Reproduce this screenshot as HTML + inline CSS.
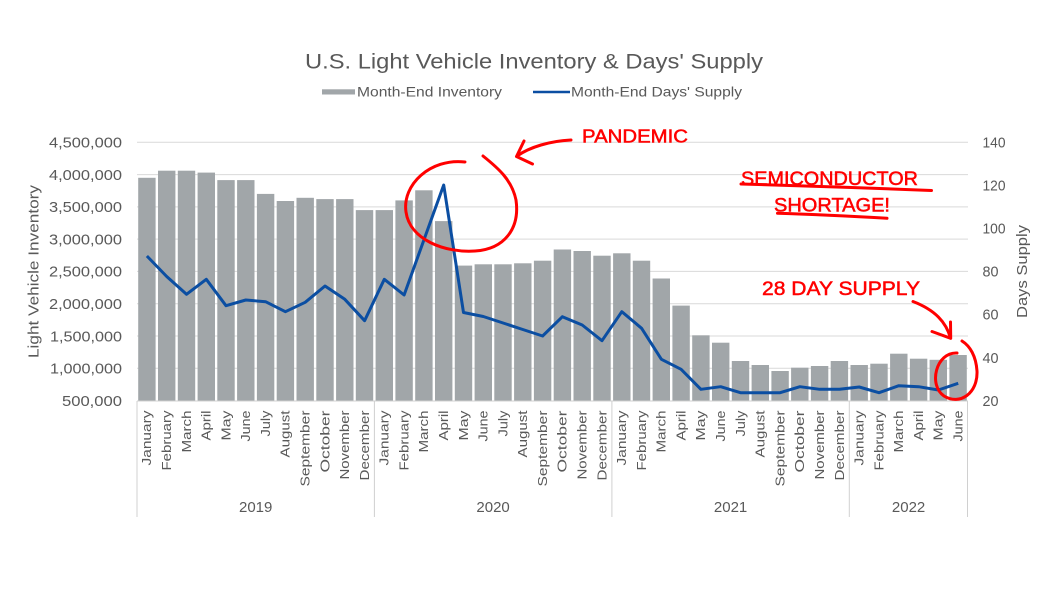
<!DOCTYPE html>
<html><head><meta charset="utf-8"><style>
html,body{margin:0;padding:0;background:#fff;}
svg{display:block;font-family:"Liberation Sans",sans-serif;}
</style></head><body>
<svg width="1057" height="594" viewBox="0 0 1057 594" xmlns="http://www.w3.org/2000/svg">
<rect width="1057" height="594" fill="#fff"/>
<!-- title -->
<text x="534" y="68.5" text-anchor="middle" font-size="21" fill="#595959" textLength="458" lengthAdjust="spacingAndGlyphs">U.S. Light Vehicle Inventory &amp; Days' Supply</text>
<!-- legend -->
<rect x="322" y="89.3" width="33" height="5.2" fill="#a1a6a9"/>
<text x="357" y="96.7" font-size="13.5" fill="#595959" textLength="145" lengthAdjust="spacingAndGlyphs">Month-End Inventory</text>
<line x1="533" y1="92" x2="570" y2="92" stroke="#0b4ea2" stroke-width="2.5"/>
<text x="571" y="96.7" font-size="13.5" fill="#595959" textLength="171" lengthAdjust="spacingAndGlyphs">Month-End Days' Supply</text>
<!-- gridlines -->
<g stroke="#d9d9d9" stroke-width="1">
<line x1="137" x2="968" y1="142.3" y2="142.3"/>
<line x1="137" x2="968" y1="174.6" y2="174.6"/>
<line x1="137" x2="968" y1="206.9" y2="206.9"/>
<line x1="137" x2="968" y1="239.1" y2="239.1"/>
<line x1="137" x2="968" y1="271.4" y2="271.4"/>
<line x1="137" x2="968" y1="303.7" y2="303.7"/>
<line x1="137" x2="968" y1="336.0" y2="336.0"/>
<line x1="137" x2="968" y1="368.2" y2="368.2"/>
</g>
<!-- bars -->
<g fill="#a1a6a9">
<rect x="138.2" y="177.8" width="17.4" height="222.7"/>
<rect x="158.0" y="170.7" width="17.4" height="229.8"/>
<rect x="177.8" y="170.7" width="17.4" height="229.8"/>
<rect x="197.6" y="172.6" width="17.4" height="227.9"/>
<rect x="217.3" y="180.1" width="17.4" height="220.4"/>
<rect x="237.1" y="180.1" width="17.4" height="220.4"/>
<rect x="256.9" y="193.9" width="17.4" height="206.6"/>
<rect x="276.7" y="201.0" width="17.4" height="199.5"/>
<rect x="296.5" y="197.8" width="17.4" height="202.7"/>
<rect x="316.3" y="199.1" width="17.4" height="201.4"/>
<rect x="336.1" y="199.1" width="17.4" height="201.4"/>
<rect x="355.8" y="210.1" width="17.4" height="190.4"/>
<rect x="375.6" y="210.1" width="17.4" height="190.4"/>
<rect x="395.4" y="200.4" width="17.4" height="200.1"/>
<rect x="415.2" y="190.3" width="17.4" height="210.2"/>
<rect x="435.0" y="221.1" width="17.4" height="179.4"/>
<rect x="454.8" y="265.6" width="17.4" height="134.9"/>
<rect x="474.6" y="264.3" width="17.4" height="136.2"/>
<rect x="494.3" y="264.3" width="17.4" height="136.2"/>
<rect x="514.1" y="263.3" width="17.4" height="137.2"/>
<rect x="533.9" y="260.7" width="17.4" height="139.8"/>
<rect x="553.7" y="249.5" width="17.4" height="151.0"/>
<rect x="573.5" y="251.0" width="17.4" height="149.5"/>
<rect x="593.3" y="255.7" width="17.4" height="144.8"/>
<rect x="613.1" y="253.3" width="17.4" height="147.2"/>
<rect x="632.8" y="260.7" width="17.4" height="139.8"/>
<rect x="652.6" y="278.5" width="17.4" height="122.0"/>
<rect x="672.4" y="305.6" width="17.4" height="94.9"/>
<rect x="692.2" y="335.3" width="17.4" height="65.2"/>
<rect x="712.0" y="342.7" width="17.4" height="57.8"/>
<rect x="731.8" y="361.0" width="17.4" height="39.5"/>
<rect x="751.6" y="365.0" width="17.4" height="35.5"/>
<rect x="771.4" y="371.0" width="17.4" height="29.5"/>
<rect x="791.1" y="367.7" width="17.4" height="32.8"/>
<rect x="810.9" y="366.0" width="17.4" height="34.5"/>
<rect x="830.7" y="361.0" width="17.4" height="39.5"/>
<rect x="850.5" y="365.0" width="17.4" height="35.5"/>
<rect x="870.3" y="363.7" width="17.4" height="36.8"/>
<rect x="890.1" y="353.7" width="17.4" height="46.8"/>
<rect x="909.9" y="358.7" width="17.4" height="41.8"/>
<rect x="929.6" y="359.8" width="17.4" height="40.7"/>
<rect x="949.4" y="355.0" width="17.4" height="45.5"/>
</g>
<!-- axis box -->
<g stroke="#d0d0d0" stroke-width="1">
<line x1="137" x2="968" y1="401" y2="401"/>
<line x1="137" x2="137" y1="401" y2="517"/>
<line x1="374.4" x2="374.4" y1="401" y2="517"/>
<line x1="611.9" x2="611.9" y1="401" y2="517"/>
<line x1="849.3" x2="849.3" y1="401" y2="517"/>
<line x1="967.5" x2="967.5" y1="401" y2="517"/>
</g>
<!-- days supply line -->
<polyline fill="none" stroke="#0b4ea2" stroke-width="3" stroke-linejoin="round" points="146.9,256 166.7,276.5 186.5,294.3 206.3,279.3 226.0,305.7 245.8,300 265.6,301.7 285.4,311.7 305.2,302.3 325.0,286 344.8,299.3 364.6,320.7 384.3,279.3 404.1,295 423.9,240 443.7,185 463.5,312.5 483.3,316.5 503.1,323 522.8,329.5 542.6,336 562.4,316.7 582.2,325 602.0,340.7 621.8,311.7 641.6,328.3 661.4,359.3 681.1,369.3 700.9,389.3 720.7,386.7 740.5,392.7 760.3,392.7 780.1,392.7 799.9,386.7 819.7,389.3 839.5,389.3 859.2,387 879.0,392.7 898.8,385.7 918.6,386.7 938.4,390 958.2,383.3"/>
<!-- left axis labels -->
<g font-size="15" fill="#595959" text-anchor="end">
<text x="122" y="147.6" textLength="73" lengthAdjust="spacingAndGlyphs">4,500,000</text>
<text x="122" y="179.9" textLength="73" lengthAdjust="spacingAndGlyphs">4,000,000</text>
<text x="122" y="212.2" textLength="73" lengthAdjust="spacingAndGlyphs">3,500,000</text>
<text x="122" y="244.4" textLength="73" lengthAdjust="spacingAndGlyphs">3,000,000</text>
<text x="122" y="276.7" textLength="73" lengthAdjust="spacingAndGlyphs">2,500,000</text>
<text x="122" y="309.0" textLength="73" lengthAdjust="spacingAndGlyphs">2,000,000</text>
<text x="122" y="341.3" textLength="72" lengthAdjust="spacingAndGlyphs">1,500,000</text>
<text x="122" y="373.5" textLength="72" lengthAdjust="spacingAndGlyphs">1,000,000</text>
<text x="122" y="405.8" textLength="60" lengthAdjust="spacingAndGlyphs">500,000</text>
</g>
<!-- right axis labels -->
<g font-size="15" fill="#595959">
<text x="982.5" y="147.6" textLength="23" lengthAdjust="spacingAndGlyphs">140</text>
<text x="982.5" y="190.6" textLength="23" lengthAdjust="spacingAndGlyphs">120</text>
<text x="982.5" y="233.7" textLength="23" lengthAdjust="spacingAndGlyphs">100</text>
<text x="982.5" y="276.7" textLength="16" lengthAdjust="spacingAndGlyphs">80</text>
<text x="982.5" y="319.7" textLength="16" lengthAdjust="spacingAndGlyphs">60</text>
<text x="982.5" y="362.8" textLength="16" lengthAdjust="spacingAndGlyphs">40</text>
<text x="982.5" y="405.8" textLength="16" lengthAdjust="spacingAndGlyphs">20</text>
</g>
<!-- axis titles -->
<text transform="translate(38.5,271.5) rotate(-90)" text-anchor="middle" font-size="15" fill="#595959" textLength="173" lengthAdjust="spacingAndGlyphs">Light Vehicle Inventory</text>
<text transform="translate(1027,271.5) rotate(-90)" text-anchor="middle" font-size="15" fill="#595959" textLength="93" lengthAdjust="spacingAndGlyphs">Days Supply</text>
<!-- month labels -->
<g font-size="13" fill="#595959" text-anchor="end">
<text transform="translate(151.2,410.5) rotate(-90)" textLength="55" lengthAdjust="spacingAndGlyphs">January</text>
<text transform="translate(171.0,410.5) rotate(-90)" textLength="60" lengthAdjust="spacingAndGlyphs">February</text>
<text transform="translate(190.8,410.5) rotate(-90)" textLength="42" lengthAdjust="spacingAndGlyphs">March</text>
<text transform="translate(210.6,410.5) rotate(-90)" textLength="30" lengthAdjust="spacingAndGlyphs">April</text>
<text transform="translate(230.3,410.5) rotate(-90)" textLength="30" lengthAdjust="spacingAndGlyphs">May</text>
<text transform="translate(250.1,410.5) rotate(-90)" textLength="31" lengthAdjust="spacingAndGlyphs">June</text>
<text transform="translate(269.9,410.5) rotate(-90)" textLength="26" lengthAdjust="spacingAndGlyphs">July</text>
<text transform="translate(289.7,410.5) rotate(-90)" textLength="47" lengthAdjust="spacingAndGlyphs">August</text>
<text transform="translate(309.5,410.5) rotate(-90)" textLength="76" lengthAdjust="spacingAndGlyphs">September</text>
<text transform="translate(329.3,410.5) rotate(-90)" textLength="62" lengthAdjust="spacingAndGlyphs">October</text>
<text transform="translate(349.1,410.5) rotate(-90)" textLength="69" lengthAdjust="spacingAndGlyphs">November</text>
<text transform="translate(368.9,410.5) rotate(-90)" textLength="70" lengthAdjust="spacingAndGlyphs">December</text>
<text transform="translate(388.6,410.5) rotate(-90)" textLength="55" lengthAdjust="spacingAndGlyphs">January</text>
<text transform="translate(408.4,410.5) rotate(-90)" textLength="60" lengthAdjust="spacingAndGlyphs">February</text>
<text transform="translate(428.2,410.5) rotate(-90)" textLength="42" lengthAdjust="spacingAndGlyphs">March</text>
<text transform="translate(448.0,410.5) rotate(-90)" textLength="30" lengthAdjust="spacingAndGlyphs">April</text>
<text transform="translate(467.8,410.5) rotate(-90)" textLength="30" lengthAdjust="spacingAndGlyphs">May</text>
<text transform="translate(487.6,410.5) rotate(-90)" textLength="31" lengthAdjust="spacingAndGlyphs">June</text>
<text transform="translate(507.4,410.5) rotate(-90)" textLength="26" lengthAdjust="spacingAndGlyphs">July</text>
<text transform="translate(527.1,410.5) rotate(-90)" textLength="47" lengthAdjust="spacingAndGlyphs">August</text>
<text transform="translate(546.9,410.5) rotate(-90)" textLength="76" lengthAdjust="spacingAndGlyphs">September</text>
<text transform="translate(566.7,410.5) rotate(-90)" textLength="62" lengthAdjust="spacingAndGlyphs">October</text>
<text transform="translate(586.5,410.5) rotate(-90)" textLength="69" lengthAdjust="spacingAndGlyphs">November</text>
<text transform="translate(606.3,410.5) rotate(-90)" textLength="70" lengthAdjust="spacingAndGlyphs">December</text>
<text transform="translate(626.1,410.5) rotate(-90)" textLength="55" lengthAdjust="spacingAndGlyphs">January</text>
<text transform="translate(645.9,410.5) rotate(-90)" textLength="60" lengthAdjust="spacingAndGlyphs">February</text>
<text transform="translate(665.7,410.5) rotate(-90)" textLength="42" lengthAdjust="spacingAndGlyphs">March</text>
<text transform="translate(685.4,410.5) rotate(-90)" textLength="30" lengthAdjust="spacingAndGlyphs">April</text>
<text transform="translate(705.2,410.5) rotate(-90)" textLength="30" lengthAdjust="spacingAndGlyphs">May</text>
<text transform="translate(725.0,410.5) rotate(-90)" textLength="31" lengthAdjust="spacingAndGlyphs">June</text>
<text transform="translate(744.8,410.5) rotate(-90)" textLength="26" lengthAdjust="spacingAndGlyphs">July</text>
<text transform="translate(764.6,410.5) rotate(-90)" textLength="47" lengthAdjust="spacingAndGlyphs">August</text>
<text transform="translate(784.4,410.5) rotate(-90)" textLength="76" lengthAdjust="spacingAndGlyphs">September</text>
<text transform="translate(804.2,410.5) rotate(-90)" textLength="62" lengthAdjust="spacingAndGlyphs">October</text>
<text transform="translate(824.0,410.5) rotate(-90)" textLength="69" lengthAdjust="spacingAndGlyphs">November</text>
<text transform="translate(843.8,410.5) rotate(-90)" textLength="70" lengthAdjust="spacingAndGlyphs">December</text>
<text transform="translate(863.5,410.5) rotate(-90)" textLength="55" lengthAdjust="spacingAndGlyphs">January</text>
<text transform="translate(883.3,410.5) rotate(-90)" textLength="60" lengthAdjust="spacingAndGlyphs">February</text>
<text transform="translate(903.1,410.5) rotate(-90)" textLength="42" lengthAdjust="spacingAndGlyphs">March</text>
<text transform="translate(922.9,410.5) rotate(-90)" textLength="30" lengthAdjust="spacingAndGlyphs">April</text>
<text transform="translate(942.7,410.5) rotate(-90)" textLength="30" lengthAdjust="spacingAndGlyphs">May</text>
<text transform="translate(962.5,410.5) rotate(-90)" textLength="31" lengthAdjust="spacingAndGlyphs">June</text>
</g>
<!-- year labels -->
<g font-size="15" fill="#595959" text-anchor="middle">
<text x="255.7" y="512">2019</text>
<text x="493.1" y="512">2020</text>
<text x="730.6" y="512">2021</text>
<text x="908.6" y="512">2022</text>
</g>
<!-- annotations -->
<g fill="none" stroke="#ff0000" stroke-width="3" stroke-linecap="round" stroke-linejoin="round">
<path d="M465,162 C430,158 402,185 406,212 C410,240 445,253 475,251 C505,249 520,228 516,200 C512,180 498,168 483,156"/>
<path d="M571,140 C550,141 530,147 517,156"/>
<path d="M524,141 L516.5,156.5 L532.5,164"/>
<path d="M741,184 C800,185.5 870,188 931.5,190.5"/>
<path d="M777.5,213.3 C815,214.5 855,216.5 887,218.3"/>
<path d="M913,301.5 C935,310 946,322 950.5,338"/>
<path d="M932,331.5 L950.7,338.3 L950.5,322"/>
<path d="M957,353 C936,352 928,385 944,396 C960,406 978,393 977,371 C976,356 970,346 962,341"/>
</g>
<g fill="#ff0000" stroke="#ff0000" stroke-width="0.5" font-size="18">
<text x="582" y="142.7" textLength="106" lengthAdjust="spacingAndGlyphs">PANDEMIC</text>
<text x="741" y="185" font-size="19" textLength="177" lengthAdjust="spacingAndGlyphs">SEMICONDUCTOR</text>
<text x="774" y="211.5" font-size="19" textLength="116" lengthAdjust="spacingAndGlyphs">SHORTAGE!</text>
<text x="762" y="295" font-size="19.5" textLength="158" lengthAdjust="spacingAndGlyphs">28 DAY SUPPLY</text>
</g>
</svg>
</body></html>
